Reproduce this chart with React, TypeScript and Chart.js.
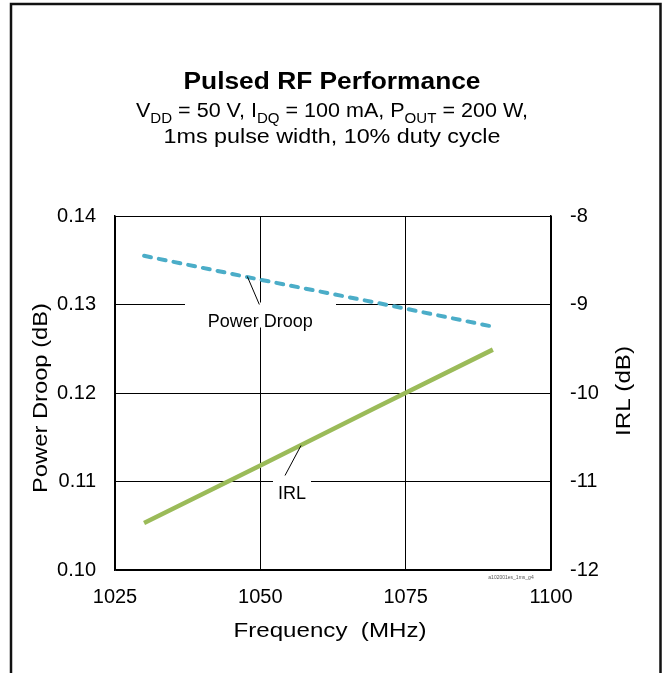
import React, { useEffect, useRef } from "react";
import { Chart, registerables } from "chart.js";

Chart.register(...registerables);

const frequencies = [1030, 1050, 1070, 1090];
const powerDroop = [0.1355, 0.1328, 0.1302, 0.1275];
const irl = [-11.47, -10.82, -10.16, -9.51];

const xTicks = [1025, 1050, 1075, 1100];
const droopTicks = [0.1, 0.11, 0.12, 0.13, 0.14];
const irlTicks = [-12, -11, -10, -9, -8];

const titleText = "Pulsed RF Performance";
const subtitleLine1 = [
  { t: "V", sub: false },
  { t: "DD", sub: true },
  { t: " = 50 V, I", sub: false },
  { t: "DQ", sub: true },
  { t: " = 100 mA, P", sub: false },
  { t: "OUT", sub: true },
  { t: " = 200 W,", sub: false },
];
const subtitleLine2 = "1ms pulse width, 10% duty cycle";
const xTitle = "Frequency  (MHz)";
const yTitle = "Power Droop (dB)";
const y1Title = "IRL (dB)";
const droopLabel = "Power Droop";
const irlLabel = "IRL";
const figId = "a102001es_1ms_g4";

const FONT = "'Liberation Sans', Arial, Helvetica, sans-serif";

function stretchedText(
  ctx: CanvasRenderingContext2D,
  text: string,
  x: number,
  y: number,
  font: string,
  targetWidth: number,
  rotate = 0
) {
  ctx.save();
  ctx.font = font;
  const w = ctx.measureText(text).width;
  const sx = targetWidth / w;
  ctx.translate(x, y);
  if (rotate) ctx.rotate(rotate);
  ctx.scale(sx, 1);
  ctx.textAlign = "center";
  ctx.fillText(text, 0, 0);
  ctx.restore();
}

const decorPlugin = {
  id: "decor",
  beforeDraw(chart: any) {
    const ctx: CanvasRenderingContext2D = chart.ctx;
    ctx.save();
    ctx.fillStyle = "#ffffff";
    ctx.fillRect(0, 0, chart.width, chart.height);
    ctx.strokeStyle = "#111111";
    ctx.lineWidth = 2.5;
    ctx.beginPath();
    ctx.moveTo(11, chart.height + 5);
    ctx.lineTo(11, 4);
    ctx.lineTo(660.5, 4);
    ctx.lineTo(660.5, chart.height + 5);
    ctx.stroke();
    ctx.restore();
  },
  afterDraw(chart: any) {
    const ctx: CanvasRenderingContext2D = chart.ctx;
    ctx.save();
    ctx.fillStyle = "#000000";
    ctx.textBaseline = "alphabetic";
    // Title
    stretchedText(ctx, titleText, 332, 89, `bold 23px ${FONT}`, 297);
    // Subtitle line 1 with subscripts
    const mainFont = `20px ${FONT}`;
    const subFont = `14px ${FONT}`;
    let total = 0;
    const widths = subtitleLine1.map((s) => {
      ctx.font = s.sub ? subFont : mainFont;
      const w = ctx.measureText(s.t).width;
      total += w;
      return w;
    });
    const target1 = 392;
    const sx = target1 / total;
    let xPos = 332 - target1 / 2;
    subtitleLine1.forEach((s, i) => {
      ctx.save();
      ctx.font = s.sub ? subFont : mainFont;
      ctx.translate(xPos, s.sub ? 123 : 117);
      ctx.scale(sx, 1);
      ctx.textAlign = "left";
      ctx.fillText(s.t, 0, 0);
      ctx.restore();
      xPos += widths[i] * sx;
    });
    // Subtitle line 2
    stretchedText(ctx, subtitleLine2, 332, 143, mainFont, 337);
    // Axis titles
    stretchedText(ctx, xTitle, 330, 637, `21px ${FONT}`, 193);
    ctx.textBaseline = "middle";
    stretchedText(ctx, yTitle, 41, 398, `21px ${FONT}`, 190, -Math.PI / 2);
    stretchedText(ctx, y1Title, 624, 391, `21px ${FONT}`, 90, -Math.PI / 2);
    ctx.restore();
  },
  afterDatasetsDraw(chart: any) {
    const ctx: CanvasRenderingContext2D = chart.ctx;
    const xs = chart.scales.x;
    const ys = chart.scales.y;
    const y1s = chart.scales.y1;
    ctx.save();
    // Power Droop label
    const pdGridY = ys.getPixelForValue(0.13);
    const x1050 = xs.getPixelForValue(1050);
    ctx.fillStyle = "#ffffff";
    ctx.fillRect(185, pdGridY - 2, 151, 25);
    ctx.fillStyle = "#000000";
    ctx.font = `18px ${FONT}`;
    ctx.textAlign = "center";
    ctx.textBaseline = "middle";
    ctx.fillText(droopLabel, x1050, pdGridY + 18);
    ctx.strokeStyle = "#000000";
    ctx.lineWidth = 1;
    ctx.beginPath();
    ctx.moveTo(x1050 - 1, pdGridY);
    ctx.lineTo(x1050 - 13, pdGridY - 28);
    ctx.stroke();
    // IRL label
    const irlGridY = y1s.getPixelForValue(-11);
    ctx.fillStyle = "#ffffff";
    ctx.fillRect(273, irlGridY - 3, 38, 26);
    ctx.fillStyle = "#000000";
    ctx.fillText(irlLabel, 292, irlGridY + 13);
    ctx.beginPath();
    ctx.moveTo(285, irlGridY - 6);
    ctx.lineTo(301, irlGridY - 36);
    ctx.stroke();
    // tiny figure id
    ctx.fillStyle = "#555555";
    ctx.font = `5px ${FONT}`;
    ctx.fillText(figId, 511, 578);
    ctx.restore();
  },
};

export default function App() {
  const ref = useRef<HTMLCanvasElement | null>(null);
  useEffect(() => {
    document.body.style.margin = "0";
    const canvas = ref.current;
    if (!canvas) return;
    const chart = new Chart(canvas, {
      type: "line",
      data: {
        datasets: [
          {
            label: "Power Droop",
            data: frequencies.map((f, i) => ({ x: f, y: powerDroop[i] })),
            borderColor: "#4BADC8",
            borderWidth: 4,
            borderDash: [7, 8],
            borderCapStyle: "round",
            pointRadius: 0,
            yAxisID: "y",
            tension: 0,
          },
          {
            label: "IRL",
            data: frequencies.map((f, i) => ({ x: f, y: irl[i] })),
            borderColor: "#9BBB59",
            borderWidth: 4.5,
            pointRadius: 0,
            yAxisID: "y1",
            tension: 0,
          },
        ],
      },
      options: {
        responsive: false,
        animation: false,
        devicePixelRatio: 1,
        layout: { padding: { left: 0, right: 0, top: 216, bottom: 0 } },
        plugins: {
          legend: { display: false },
          title: { display: false },
          tooltip: { enabled: false },
        },
        scales: {
          x: {
            type: "linear",
            min: 1025,
            max: 1100,
            afterBuildTicks: (s: any) => {
              s.ticks = xTicks.map((v) => ({ value: v }));
            },
            afterFit: (s: any) => {
              s.height = 103;
            },
            ticks: {
              color: "#000000",
              font: { family: FONT, size: 20 },
              padding: 15,
              callback: (v: any) => String(v),
            },
            grid: { color: "#000000", lineWidth: 1, drawTicks: false },
            border: { color: "#000000", width: 1.5 },
          },
          y: {
            type: "linear",
            position: "left",
            min: 0.1,
            max: 0.14,
            afterBuildTicks: (s: any) => {
              s.ticks = droopTicks.map((v) => ({ value: v }));
            },
            afterFit: (s: any) => {
              s.width = 115;
            },
            ticks: {
              color: "#000000",
              font: { family: FONT, size: 20 },
              padding: 19,
              callback: (v: any) => Number(v).toFixed(2),
            },
            grid: { color: "#000000", lineWidth: 1, drawTicks: false },
            border: { color: "#000000", width: 1.5 },
          },
          y1: {
            type: "linear",
            position: "right",
            min: -12,
            max: -8,
            afterBuildTicks: (s: any) => {
              s.ticks = irlTicks.map((v) => ({ value: v }));
            },
            afterFit: (s: any) => {
              s.width = 113;
            },
            ticks: {
              color: "#000000",
              font: { family: FONT, size: 20 },
              padding: 19,
              callback: (v: any) => String(v),
            },
            grid: { display: false, drawTicks: false },
            border: { color: "#000000", width: 1.5 },
          },
        },
      },
      plugins: [decorPlugin],
    });
    return () => chart.destroy();
  }, []);
  return (
    <div style={{ position: "absolute", left: 0, top: 0, width: 664, height: 673 }}>
      <canvas ref={ref} width={664} height={673} style={{ display: "block" }} />
    </div>
  );
}
